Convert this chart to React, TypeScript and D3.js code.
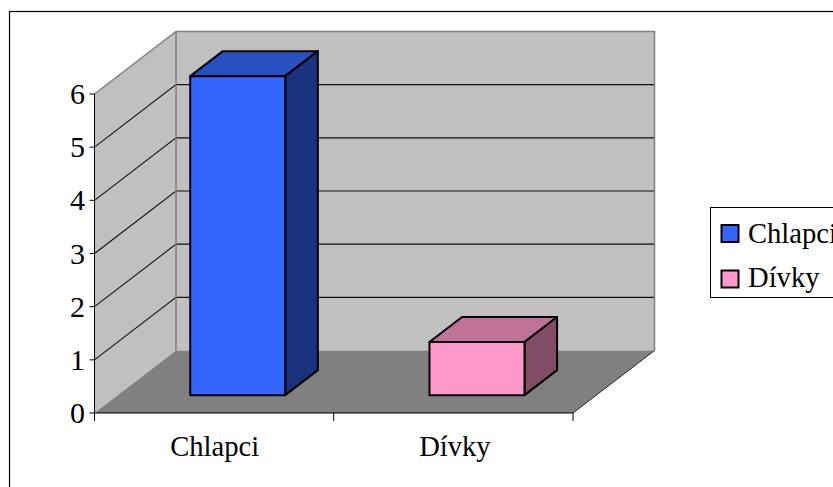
import React from "react";
import * as d3 from "d3";

const categories = ["Chlapci", "Dívky"];
const values = [6, 1];
const yTicks = [0, 1, 2, 3, 4, 5, 6];
const frontColors = ["#3366ff", "#ff99cc"];
const topColors = ["#2850c0", "#c07299"];
const sideColors = ["#1a337f", "#804c66"];

const W = 833, H = 487;
const FONT = "'Liberation Serif','Times New Roman',serif";

export default function App() {
  const x = d3.scaleBand<string>().domain(categories).range([94.5, 573]).paddingInner(0).paddingOuter(0);
  const y = d3.scaleLinear().domain([0, 6]).range([413, 94]);
  // depth axis: 0 = front of floor, 1 = back wall
  const dx = d3.scaleLinear().domain([0, 1]).range([0, 81.5]);
  const dy = d3.scaleLinear().domain([0, 1]).range([0, -62.5]);
  const poly = (p: [number, number][]) => d3.line()(p)! + "Z";
  const x0 = x.range()[0], x1 = x.range()[1];
  const bw = x.bandwidth();
  const barW = 95, barOff = (bw - barW) / 2 + 0.3;
  const dF = 0.286, dB = 0.686;

  return (
    <svg width={W} height={H} style={{ position: "absolute", left: 0, top: 0, background: "#fff" }} fontFamily={FONT}>
      <rect x={9.5} y={11.5} width={W + 20} height={H + 20} fill="#fff" stroke="#000" strokeWidth={1.2} />
      {/* walls */}
      <path d={poly([[x0, y(0)], [x0, y(6)], [x0 + dx(1), y(6) + dy(1)], [x0 + dx(1), y(0) + dy(1)]])} fill="#c0c0c0" />
      <path d={poly([[x0 + dx(1), y(6) + dy(1)], [x1 + dx(1), y(6) + dy(1)], [x1 + dx(1), y(0) + dy(1)], [x0 + dx(1), y(0) + dy(1)]])} fill="#c0c0c0" />
      <path d={poly([[x0, y(0)], [x1, y(0)], [x1 + dx(1), y(0) + dy(1)], [x0 + dx(1), y(0) + dy(1)]])} fill="#808080" />
      {/* gridlines */}
      {yTicks.slice(1, 6).map(t => (
        <g key={t}>
          <path d={d3.line()([[x0, y(t)], [x0 + dx(1), y(t) + dy(1)], [x1 + dx(1), y(t) + dy(1)]])!} fill="none" stroke="#111" strokeWidth={1.1} />
        </g>
      ))}
      {/* wall outlines */}
      <path d={d3.line()([[x0, y(6)], [x0 + dx(1), y(6) + dy(1)], [x1 + dx(1), y(6) + dy(1)], [x1 + dx(1), y(0) + dy(1)]])!} fill="none" stroke="#808080" strokeWidth={1.5} />
      <line x1={x0 + dx(1)} x2={x0 + dx(1)} y1={y(6) + dy(1)} y2={y(0) + dy(1)} stroke="#808080" strokeWidth={1.5} />
      <line x1={x1} y1={y(0)} x2={x1 + dx(1)} y2={y(0) + dy(1)} stroke="#222" strokeWidth={1} />
      {/* bars */}
      {categories.map((c, i) => {
        const l = x(c)! + barOff + dx(dF), r = l + barW;
        const b = y(0) + dy(dF), t = b - (y(0) - y(values[i]));
        const ox = dx(dB - dF), oy = dy(dB - dF);
        return (
          <g key={c} stroke="#000" strokeWidth={2} strokeLinejoin="round">
            <path d={poly([[l, t], [r, t], [r + ox, t + oy], [l + ox, t + oy]])} fill={topColors[i]} />
            <path d={poly([[r, t], [r + ox, t + oy], [r + ox, b + oy], [r, b]])} fill={sideColors[i]} />
            <rect x={l} y={t} width={barW} height={b - t} fill={frontColors[i]} />
          </g>
        );
      })}
      {/* axes */}
      <line x1={x0} x2={x0} y1={y(6)} y2={y(0) + 8} stroke="#000" />
      <line x1={x0} x2={x1} y1={y(0)} y2={y(0)} stroke="#000" strokeWidth={1.2} />
      {yTicks.map(t => (
        <g key={t}>
          <line x1={x0 - 5} x2={x0} y1={y(t)} y2={y(t)} stroke="#000" />
          <text x={x0 - 9.5} y={y(t) + 10} textAnchor="end" fontSize={30} fill="#000">{t}</text>
        </g>
      ))}
      {[x0, x0 + bw, x1].map((v, i) => (
        <line key={i} x1={v} x2={v} y1={y(0)} y2={y(0) + 8} stroke="#000" />
      ))}
      {categories.map((c, i) => (
        <text key={c} x={x(c)! + bw / 2 + 0.5 + i} y={456} textAnchor="middle" fontSize={28.6} fill="#000">{c}</text>
      ))}
      {/* legend */}
      <rect x={710.5} y={207.5} width={140} height={90} fill="#fff" stroke="#000" />
      {categories.map((c, i) => (
        <g key={c}>
          <rect x={721.5} y={225 + i * 45.5} width={17} height={17} fill={frontColors[i]} stroke="#000" strokeWidth={2} />
          <text x={748} y={243 + i * 44} fontSize={28.6} fill="#000">{c}</text>
        </g>
      ))}
    </svg>
  );
}
